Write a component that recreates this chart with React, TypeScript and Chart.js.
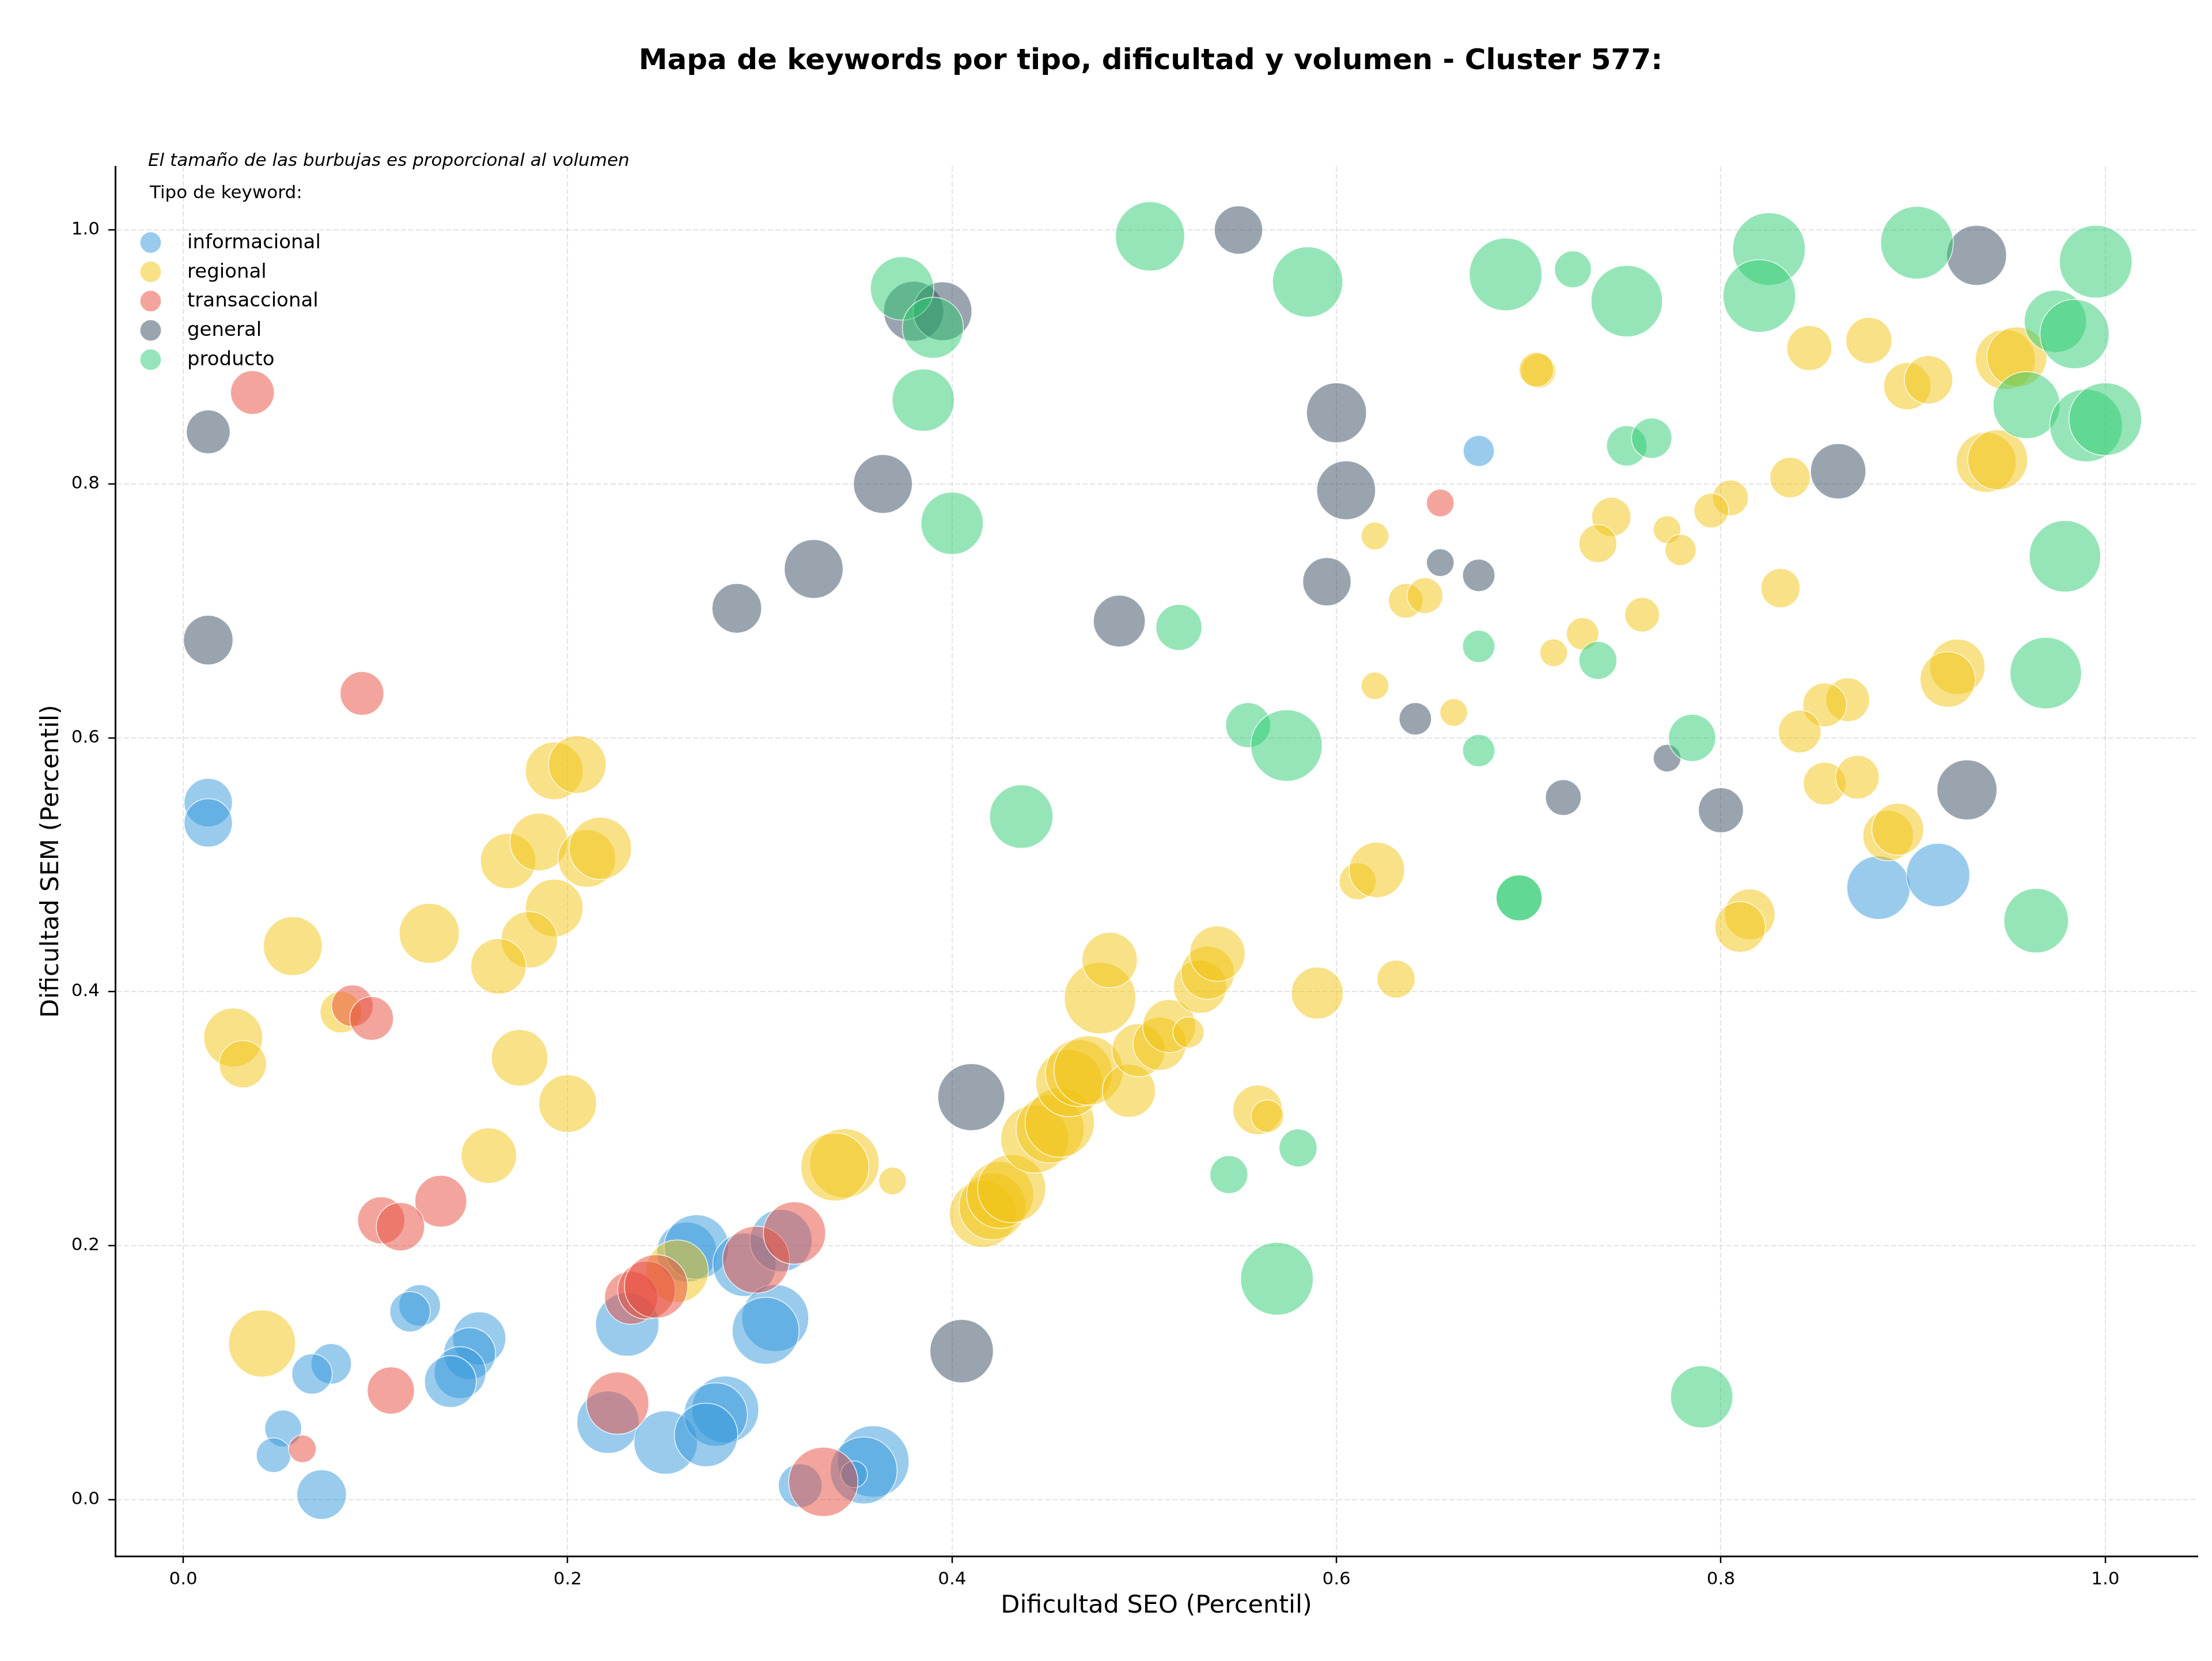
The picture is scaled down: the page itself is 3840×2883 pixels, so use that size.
import React, { useEffect, useRef } from "react";
import { Chart, registerables } from "chart.js";

Chart.register(...registerables);

// ---------- Data ----------
const chartTitle = "Mapa de keywords por tipo, dificultad y volumen - Cluster 577:";
const noteText = "El tamaño de las burbujas es proporcional al volumen";
const legendTitle = "Tipo de keyword:";
const xLabel = "Dificultad SEO (Percentil)";
const yLabel = "Dificultad SEM (Percentil)";

const categories = ["informacional", "regional", "transaccional", "general", "producto"];
const categoryColors = ["#3498db", "#f1c40f", "#e74c3c", "#34495e", "#2ecc71"];

const xTicks = [0.0, 0.2, 0.4, 0.6, 0.8, 1.0];
const yTicks = [0.0, 0.2, 0.4, 0.6, 0.8, 1.0];

// informacional
const infoSEO = [0.013, 0.013, 0.674, 0.123, 0.118, 0.154, 0.149, 0.144, 0.139, 0.077,
  0.067, 0.052, 0.047, 0.072, 0.262, 0.267, 0.231, 0.292, 0.311, 0.308,
  0.303, 0.221, 0.251, 0.282, 0.277, 0.272, 0.321, 0.359, 0.354, 0.349,
  0.882, 0.913];
const infoSEM = [0.549, 0.533, 0.826, 0.153, 0.148, 0.127, 0.115, 0.100, 0.093, 0.107,
  0.099, 0.056, 0.035, 0.004, 0.195, 0.199, 0.138, 0.185, 0.204, 0.143,
  0.133, 0.061, 0.045, 0.071, 0.067, 0.051, 0.011, 0.030, 0.023, 0.020,
  0.482, 0.492];
const infoVol = [172, 172, 71, 127, 120, 207, 198, 198, 198, 120,
  120, 100, 88, 181, 264, 306, 295, 295, 285, 329,
  329, 285, 295, 329, 295, 295, 141, 375, 329, 52,
  295, 295];

// regional
const regSEO = [0.193, 0.205, 0.169, 0.185, 0.210, 0.217, 0.193, 0.180, 0.164, 0.128,
  0.057, 0.026, 0.031, 0.082, 0.175, 0.200, 0.159, 0.041, 0.257, 0.344,
  0.339, 0.369, 0.416, 0.421, 0.425, 0.431, 0.443, 0.451, 0.456, 0.461,
  0.466, 0.471, 0.492, 0.497, 0.508, 0.513, 0.523, 0.477, 0.482, 0.529,
  0.533, 0.538, 0.559, 0.564, 0.590, 0.631, 0.611, 0.621, 0.815, 0.810,
  0.705, 0.704, 0.846, 0.877, 0.897, 0.908, 0.948, 0.954, 0.938, 0.944,
  0.836, 0.805, 0.795, 0.743, 0.736, 0.772, 0.779, 0.831, 0.759, 0.728,
  0.713, 0.923, 0.918, 0.866, 0.854, 0.841, 0.854, 0.871, 0.887, 0.892,
  0.620, 0.636, 0.646, 0.620, 0.661];
const regSEM = [0.574, 0.579, 0.503, 0.518, 0.505, 0.513, 0.466, 0.441, 0.420, 0.446,
  0.436, 0.364, 0.343, 0.384, 0.348, 0.312, 0.271, 0.123, 0.180, 0.265,
  0.262, 0.251, 0.225, 0.231, 0.240, 0.245, 0.284, 0.292, 0.297, 0.328,
  0.336, 0.338, 0.322, 0.354, 0.359, 0.373, 0.368, 0.395, 0.425, 0.404,
  0.415, 0.430, 0.307, 0.302, 0.399, 0.410, 0.487, 0.496, 0.461, 0.451,
  0.889, 0.890, 0.907, 0.913, 0.877, 0.882, 0.898, 0.900, 0.817, 0.819,
  0.805, 0.789, 0.779, 0.774, 0.753, 0.764, 0.748, 0.718, 0.697, 0.682,
  0.667, 0.656, 0.646, 0.630, 0.626, 0.605, 0.564, 0.569, 0.523, 0.528,
  0.759, 0.708, 0.712, 0.641, 0.620];
const regVol = [244, 244, 225, 244, 244, 285, 244, 234, 225, 264,
  254, 254, 164, 127, 234, 244, 225, 329, 285, 352,
  340, 56, 329, 329, 329, 340, 340, 340, 352, 329,
  329, 352, 207, 207, 207, 207, 71, 375, 225, 207,
  207, 225, 181, 77, 198, 106, 100, 225, 189, 189,
  88, 88, 149, 156, 164, 172, 264, 264, 264, 264,
  120, 94, 88, 113, 106, 56, 71, 113, 88, 77,
  56, 225, 225, 141, 141, 134, 134, 141, 189, 198,
  56, 88, 94, 56, 56];

// transaccional
const traSEO = [0.036, 0.093, 0.088, 0.098, 0.134, 0.103, 0.113, 0.108, 0.062, 0.233,
  0.241, 0.246, 0.298, 0.318, 0.226, 0.333, 0.654];
const traSEM = [0.872, 0.635, 0.389, 0.379, 0.235, 0.220, 0.215, 0.086, 0.040, 0.159,
  0.165, 0.168, 0.189, 0.210, 0.076, 0.014, 0.785];
const traVol = [141, 141, 127, 141, 198, 164, 172, 164, 56, 207,
  244, 295, 329, 285, 285, 352, 56];

// general
const genSEO = [0.013, 0.013, 0.288, 0.328, 0.380, 0.395, 0.364, 0.549, 0.600, 0.605,
  0.595, 0.487, 0.654, 0.674, 0.641, 0.410, 0.405, 0.933, 0.861, 0.772,
  0.718, 0.800, 0.928];
const genSEM = [0.841, 0.677, 0.702, 0.733, 0.936, 0.936, 0.800, 1.000, 0.856, 0.795,
  0.723, 0.692, 0.738, 0.728, 0.615, 0.317, 0.117, 0.980, 0.810, 0.584,
  0.553, 0.543, 0.559];
const genVol = [141, 181, 181, 254, 264, 254, 254, 172, 264, 254,
  172, 198, 56, 77, 77, 329, 295, 264, 225, 56,
  94, 149, 264];

// producto
const proSEO = [0.374, 0.390, 0.385, 0.400, 0.503, 0.585, 0.688, 0.723, 0.751, 0.825,
  0.820, 0.902, 0.995, 0.974, 0.984, 0.959, 0.990, 1.000, 0.751, 0.764,
  0.979, 0.736, 0.969, 0.785, 0.518, 0.674, 0.674, 0.554, 0.574, 0.436,
  0.544, 0.580, 0.569, 0.695, 0.695, 0.964, 0.790];
const proSEM = [0.954, 0.923, 0.866, 0.769, 0.995, 0.959, 0.965, 0.969, 0.944, 0.985,
  0.948, 0.990, 0.975, 0.928, 0.918, 0.862, 0.846, 0.851, 0.830, 0.836,
  0.743, 0.661, 0.651, 0.600, 0.687, 0.672, 0.590, 0.610, 0.594, 0.538,
  0.256, 0.277, 0.174, 0.474, 0.474, 0.456, 0.081];
const proVol = [295, 274, 285, 285, 352, 363, 388, 100, 375, 388,
  388, 388, 388, 285, 352, 329, 388, 388, 120, 120,
  375, 106, 375, 164, 156, 77, 77, 149, 375, 295,
  106, 106, 388, 156, 156, 306, 285];

const seriesSEO = [infoSEO, regSEO, traSEO, genSEO, proSEO];
const seriesSEM = [infoSEM, regSEM, traSEM, genSEM, proSEM];
const seriesVol = [infoVol, regVol, traVol, genVol, proVol];

// ---------- Styling ----------
const FONT = "'DejaVu Sans', 'Liberation Sans', sans-serif";
const W = 3840;
const H = 2883;

function rgba(hex: string, a: number) {
  const n = parseInt(hex.slice(1), 16);
  return `rgba(${(n >> 16) & 255},${(n >> 8) & 255},${n & 255},${a})`;
}
const volToRadius = (v: number) => Math.sqrt(v) * 3.2;

const overlayPlugin = {
  id: "overlay",
  afterDraw(chart: any) {
    const ctx = chart.ctx as CanvasRenderingContext2D;
    const ca = chart.chartArea;
    ctx.save();
    ctx.fillStyle = "#000";
    ctx.textAlign = "center";
    ctx.textBaseline = "alphabetic";
    ctx.font = `bold 50px ${FONT}`;
    ctx.fillText(chartTitle, (ca.left + ca.right) / 2 - 10, 120);

    ctx.textAlign = "left";
    ctx.font = `italic 31px ${FONT}`;
    ctx.fillText(noteText, ca.left + 57, ca.top - 1);
    ctx.font = `31px ${FONT}`;
    ctx.fillText(legendTitle, ca.left + 60, ca.top + 55);

    categories.forEach((c, i) => {
      const y = ca.top + 132 + i * 50.8;
      const x = ca.left + 61.5;
      ctx.beginPath();
      ctx.arc(x, y, 18.5, 0, Math.PI * 2);
      ctx.fillStyle = rgba(categoryColors[i], 0.5);
      ctx.fill();
      ctx.lineWidth = 1.5;
      ctx.strokeStyle = "rgba(255,255,255,0.8)";
      ctx.stroke();
      ctx.fillStyle = "#000";
      ctx.font = `34px ${FONT}`;
      ctx.textBaseline = "middle";
      ctx.fillText(c, ca.left + 125, y + 1);
    });
    ctx.restore();
  },
};

export default function App() {
  const ref = useRef<HTMLCanvasElement | null>(null);

  useEffect(() => {
    document.body.style.margin = "0";
    document.body.style.overflow = "hidden";
    const canvas = ref.current;
    if (!canvas) return;

    const datasets = categories.map((name, k) => ({
      label: name,
      order: categories.length - 1 - k,
      data: seriesSEO[k].map((x, i) => ({ x, y: seriesSEM[k][i], r: volToRadius(seriesVol[k][i]) })),
      backgroundColor: rgba(categoryColors[k], 0.5),
      borderColor: "rgba(255,255,255,0.8)",
      borderWidth: 1.5,
      hoverBorderWidth: 1.5,
    }));

    const chart = new Chart(canvas, {
      type: "bubble",
      data: { datasets },
      plugins: [overlayPlugin],
      options: {
        animation: false,
        responsive: false,
        devicePixelRatio: 1,
        events: [],
        layout: { autoPadding: false, padding: { left: 0, right: 25, top: 289, bottom: 0 } },
        plugins: {
          legend: { display: false },
          title: { display: false },
          tooltip: { enabled: false },
        },
        scales: {
          x: {
            type: "linear",
            min: -0.0354,
            max: 1.048,
            afterBuildTicks: (s: any) => {
              s.ticks = xTicks.map((v) => ({ value: v }));
            },
            afterFit: (s: any) => {
              s.height = 182;
            },
            ticks: {
              callback: (v: any) => Number(v).toFixed(1),
              font: { family: FONT, size: 31 },
              color: "#000",
              padding: 10,
              maxRotation: 0,
              autoSkip: false,
            },
            grid: {
              color: "rgba(176,176,176,0.35)",
              lineWidth: 2,
              tickColor: "#000",
              tickLength: 12,
              tickWidth: 2.5,
              tickBorderDash: [],
            },
            border: { display: true, color: "#000", width: 3, dash: [9, 4] },
            title: {
              display: true,
              text: xLabel,
              font: { family: FONT, size: 43 },
              color: "#000",
              padding: { top: 0, bottom: 69 },
            },
          },
          y: {
            type: "linear",
            min: -0.0445,
            max: 1.05,
            afterBuildTicks: (s: any) => {
              s.ticks = yTicks.map((v) => ({ value: v }));
            },
            afterFit: (s: any) => {
              s.width = 200;
            },
            ticks: {
              callback: (v: any) => Number(v).toFixed(1),
              font: { family: FONT, size: 31 },
              color: "#000",
              padding: 15,
              autoSkip: false,
            },
            grid: {
              color: "rgba(176,176,176,0.35)",
              lineWidth: 2,
              tickColor: "#000",
              tickLength: 12,
              tickWidth: 2.5,
              tickBorderDash: [],
            },
            border: { display: true, color: "#000", width: 3, dash: [9, 4] },
            title: {
              display: true,
              text: yLabel,
              font: { family: FONT, size: 43 },
              color: "#000",
              padding: { top: 64, bottom: 0 },
            },
          },
        },
      } as any,
    });

    return () => chart.destroy();
  }, []);

  return (
    <div style={{ width: W, height: H, background: "#fff" }}>
      <canvas ref={ref} width={W} height={H} style={{ display: "block", width: W, height: H }} />
    </div>
  );
}
